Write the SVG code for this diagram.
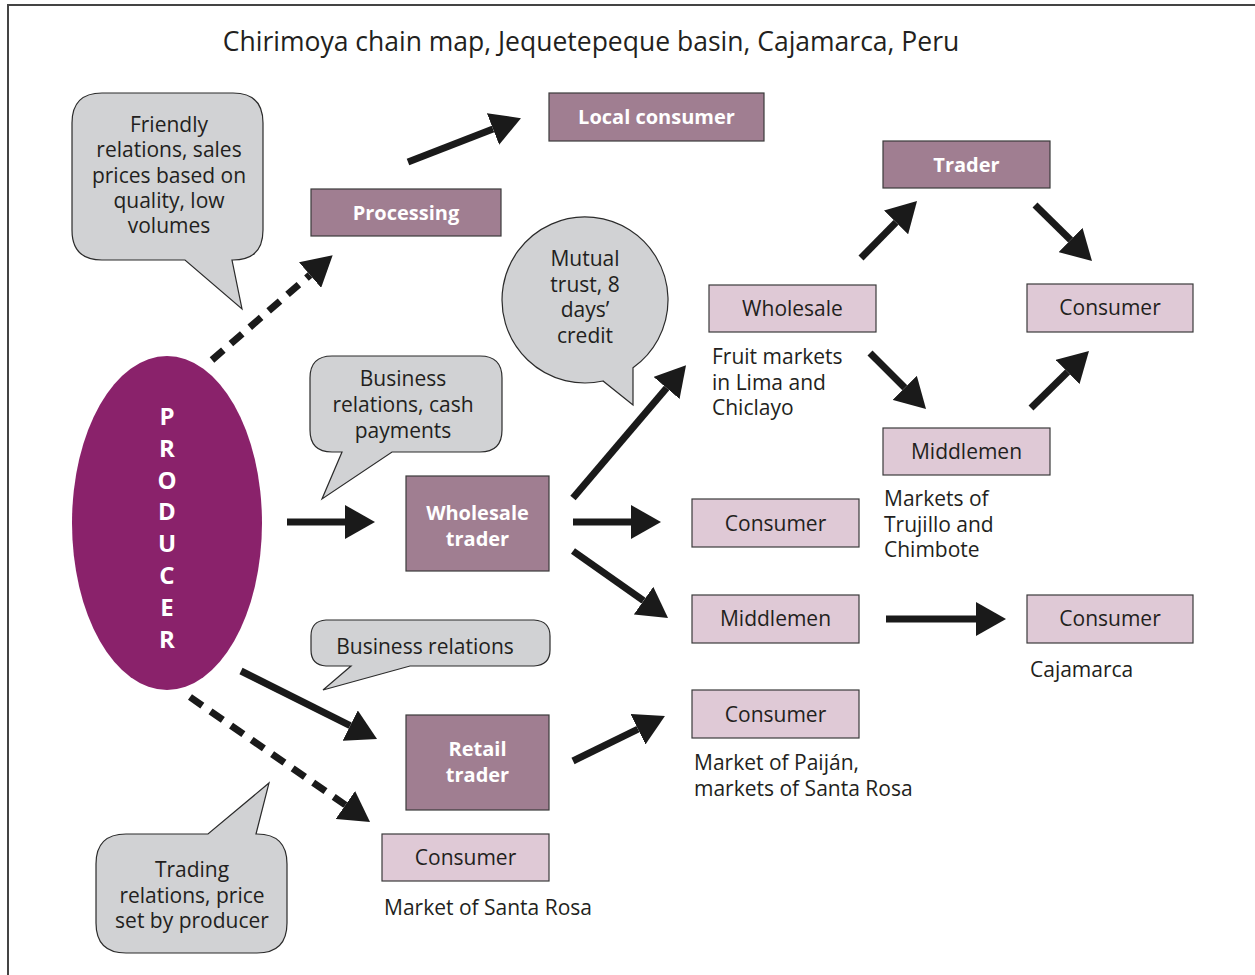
<svg xmlns="http://www.w3.org/2000/svg" width="1255" height="975" viewBox="0 0 1255 975">
  <style>
    text { font-family: "Open Sans", "Noto Sans", "Liberation Sans", sans-serif; fill: #231f20; }
    .title { font-size: 26.5px; }
    .lbl { font-size: 21px; }
    .wlbl { font-size: 20px; font-weight: bold; fill: #ffffff; }
    .dark { fill: #a07e91; stroke: #3b3b3b; stroke-width: 1.2; }
    .light { fill: #dfc9d6; stroke: #3b3b3b; stroke-width: 1.2; }
    .bubble { fill: #d1d2d4; stroke: #2b2b2b; stroke-width: 1.2; }
    .arrow { stroke: #1a1a1a; stroke-width: 7; fill: none; marker-end: url(#head); }
    .dash { stroke-dasharray: 15 10; }
    .prod { font-size: 24px; font-weight: bold; fill: #ffffff; }
  </style>
  <defs>
    <marker id="head" markerUnits="userSpaceOnUse" markerWidth="30" markerHeight="34" viewBox="0 0 30 34" refX="0" refY="17" orient="auto">
      <path d="M0,0 L30,17 L0,34 z" fill="#1a1a1a"/>
    </marker>
  </defs>

  <!-- frame -->
  <path d="M8,975 V5 H1255" fill="none" stroke="#444" stroke-width="2"/>

  <text class="title" x="591" y="51" text-anchor="middle">Chirimoya chain map, Jequetepeque basin, Cajamarca, Peru</text>

  <!-- speech bubbles -->
  <g id="note-friendly">
    <path class="bubble" d="M102,93 H233 Q263,93 263,123 V230 Q263,260 233,260 H232 L242,309 L185,260 H102 Q72,260 72,230 V123 Q72,93 102,93 Z"/>
    <text class="lbl" text-anchor="middle" x="169" y="132">Friendly</text>
    <text class="lbl" text-anchor="middle" x="169" y="157">relations, sales</text>
    <text class="lbl" text-anchor="middle" x="169" y="183">prices based on</text>
    <text class="lbl" text-anchor="middle" x="169" y="208">quality, low</text>
    <text class="lbl" text-anchor="middle" x="169" y="233">volumes</text>
  </g>
  <g id="note-business-cash">
    <path class="bubble" d="M332,356 H480 Q502,356 502,378 V430 Q502,452 480,452 H392 L322,499 L342,452 H332 Q310,452 310,430 V378 Q310,356 332,356 Z"/>
    <text class="lbl" text-anchor="middle" x="403" y="386">Business</text>
    <text class="lbl" text-anchor="middle" x="403" y="412">relations, cash</text>
    <text class="lbl" text-anchor="middle" x="403" y="438">payments</text>
  </g>
  <g id="note-mutual-trust">
    <path class="bubble" d="M603,381 A83,83 0 1 1 633,367.7 L633,405 Z"/>
    <text class="lbl" text-anchor="middle" x="585" y="266">Mutual</text>
    <text class="lbl" text-anchor="middle" x="585" y="292">trust, 8</text>
    <text class="lbl" text-anchor="middle" x="585" y="317">days’</text>
    <text class="lbl" text-anchor="middle" x="585" y="343">credit</text>
  </g>
  <g id="note-business">
    <path class="bubble" d="M326,620 H534 Q550,621 550,636 V650 Q550,665 534,666 H410 L323,690 L351,666 H326 Q311,665 311,650 V636 Q311,621 326,620 Z"/>
    <text class="lbl" text-anchor="middle" x="425" y="654">Business relations</text>
  </g>
  <g id="note-trading">
    <path class="bubble" d="M126,834 H208 L269,783 L256,834 H257 Q287,834 287,864 V923 Q287,953 257,953 H126 Q96,953 96,923 V864 Q96,834 126,834 Z"/>
    <text class="lbl" text-anchor="middle" x="192" y="877">Trading</text>
    <text class="lbl" text-anchor="middle" x="192" y="903">relations, price</text>
    <text class="lbl" text-anchor="middle" x="192" y="928">set by producer</text>
  </g>

  <!-- producer -->
  <g id="producer">
    <ellipse cx="167" cy="523" rx="95" ry="167" fill="#8a226b"/>
    <text class="prod" text-anchor="middle" x="167" y="425">P</text>
    <text class="prod" text-anchor="middle" x="167" y="457">R</text>
    <text class="prod" text-anchor="middle" x="167" y="489">O</text>
    <text class="prod" text-anchor="middle" x="167" y="520">D</text>
    <text class="prod" text-anchor="middle" x="167" y="552">U</text>
    <text class="prod" text-anchor="middle" x="167" y="584">C</text>
    <text class="prod" text-anchor="middle" x="167" y="616">E</text>
    <text class="prod" text-anchor="middle" x="167" y="648">R</text>
  </g>

  <!-- dark nodes -->
  <g id="local-consumer">
    <rect class="dark" x="549" y="93" width="215" height="48"/>
    <text class="wlbl" text-anchor="middle" x="656.5" y="124">Local consumer</text>
  </g>
  <g id="processing">
    <rect class="dark" x="311" y="189" width="190" height="47"/>
    <text class="wlbl" text-anchor="middle" x="406" y="220">Processing</text>
  </g>
  <g id="trader">
    <rect class="dark" x="883" y="141" width="167" height="47"/>
    <text class="wlbl" text-anchor="middle" x="966.5" y="172">Trader</text>
  </g>
  <g id="wholesale-trader">
    <rect class="dark" x="406" y="476" width="143" height="95"/>
    <text class="wlbl" text-anchor="middle" x="477.5" y="520">Wholesale</text>
    <text class="wlbl" text-anchor="middle" x="477.5" y="546">trader</text>
  </g>
  <g id="retail-trader">
    <rect class="dark" x="406" y="715" width="143" height="95"/>
    <text class="wlbl" text-anchor="middle" x="477.5" y="756">Retail</text>
    <text class="wlbl" text-anchor="middle" x="477.5" y="782">trader</text>
  </g>

  <!-- light nodes -->
  <g id="wholesale">
    <rect class="light" x="709" y="285" width="167" height="47"/>
    <text class="lbl" text-anchor="middle" x="792.5" y="316">Wholesale</text>
    <text class="lbl" x="712" y="364">Fruit markets</text>
    <text class="lbl" x="712" y="390">in Lima and</text>
    <text class="lbl" x="712" y="415">Chiclayo</text>
  </g>
  <g id="consumer-north">
    <rect class="light" x="1027" y="284" width="166" height="48"/>
    <text class="lbl" text-anchor="middle" x="1110" y="315">Consumer</text>
  </g>
  <g id="middlemen-north">
    <rect class="light" x="883" y="428" width="167" height="47"/>
    <text class="lbl" text-anchor="middle" x="966.5" y="459">Middlemen</text>
    <text class="lbl" x="884" y="506">Markets of</text>
    <text class="lbl" x="884" y="532">Trujillo and</text>
    <text class="lbl" x="884" y="557">Chimbote</text>
  </g>
  <g id="consumer-wholesale">
    <rect class="light" x="692" y="499" width="167" height="48"/>
    <text class="lbl" text-anchor="middle" x="775.5" y="531">Consumer</text>
  </g>
  <g id="middlemen-south">
    <rect class="light" x="692" y="595" width="167" height="48"/>
    <text class="lbl" text-anchor="middle" x="775.5" y="626">Middlemen</text>
  </g>
  <g id="consumer-cajamarca">
    <rect class="light" x="1027" y="595" width="166" height="48"/>
    <text class="lbl" text-anchor="middle" x="1110" y="626">Consumer</text>
    <text class="lbl" x="1030" y="677">Cajamarca</text>
  </g>
  <g id="consumer-paijan">
    <rect class="light" x="692" y="690" width="167" height="48"/>
    <text class="lbl" text-anchor="middle" x="775.5" y="722">Consumer</text>
    <text class="lbl" x="694" y="770">Market of Paiján,</text>
    <text class="lbl" x="694" y="796">markets of Santa Rosa</text>
  </g>
  <g id="consumer-santa-rosa">
    <rect class="light" x="382" y="834" width="167" height="47"/>
    <text class="lbl" text-anchor="middle" x="465.5" y="865">Consumer</text>
    <text class="lbl" x="384" y="915">Market of Santa Rosa</text>
  </g>

  <!-- connectors -->
  <g id="connectors">
    <line class="arrow" x1="408" y1="162" x2="493" y2="129"/>
    <line class="arrow dash" x1="212" y1="360" x2="310" y2="275"/>
    <line class="arrow" x1="287" y1="522" x2="345" y2="522"/>
    <line class="arrow" x1="573" y1="498" x2="666.6" y2="388"/>
    <line class="arrow" x1="573" y1="522" x2="631" y2="522"/>
    <line class="arrow" x1="573" y1="551" x2="643.5" y2="600.7"/>
    <line class="arrow" x1="861" y1="258" x2="896" y2="222.4"/>
    <line class="arrow" x1="1035" y1="205" x2="1070.6" y2="240"/>
    <line class="arrow" x1="870" y1="353" x2="904.8" y2="387.8"/>
    <line class="arrow" x1="1031" y1="408" x2="1067.6" y2="372"/>
    <line class="arrow" x1="886" y1="619" x2="976" y2="619"/>
    <line class="arrow" x1="241" y1="671" x2="350.2" y2="725.6"/>
    <line class="arrow dash" x1="190" y1="697" x2="345.4" y2="805"/>
    <line class="arrow" x1="573" y1="761" x2="638" y2="729.2"/>
  </g>
</svg>
